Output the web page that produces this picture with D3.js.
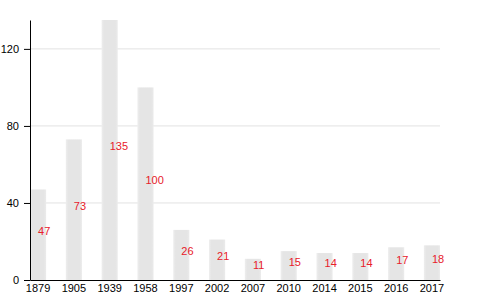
<!doctype html>
<html lang="en">
<head>
<meta charset="utf-8">
<title>Bar chart</title>
<style>
  body { margin: 0; background: #fff; }
  .axis text { font: 11px "Liberation Sans", Arial, sans-serif; fill: #000; }
  .grid line { stroke: #e2e2e2; }
  .label { font: 11px "Liberation Sans", Arial, sans-serif; fill: #e8202a; }
</style>
<script src="https://d3js.org/d3.v7.min.js"></script>
</head>
<body>
<div id="chart"></div>
<script>
// data
var years = ["1879", "1905", "1939", "1958", "1997", "2002", "2007", "2010", "2014", "2015", "2016", "2017"];
var counts = [47, 73, 135, 100, 26, 21, 11, 15, 14, 14, 17, 18];
var yTicks = [0, 40, 80, 120];

var margin = {top: 20, right: 40, bottom: 20, left: 30},
    width = 480 - margin.left - margin.right,
    height = 300 - margin.top - margin.bottom;

var svg = d3.select("#chart").append("svg")
  .attr("width", 480)
  .attr("height", 300);

// soft gradient on the bars
var grad = svg.append("defs").append("linearGradient")
  .attr("id", "barfill")
  .attr("x1", "0%").attr("x2", "100%");
grad.append("stop").attr("offset", "0%").attr("stop-color", "#eeeeee");
grad.append("stop").attr("offset", "15%").attr("stop-color", "#e5e5e5");
grad.append("stop").attr("offset", "85%").attr("stop-color", "#e5e5e5");
grad.append("stop").attr("offset", "100%").attr("stop-color", "#ebebeb");

var main = svg.append("g")
  .attr("transform", "translate(" + margin.left + "," + margin.top + ")");

var x = d3.scaleBand()
  .domain(years)
  .range([0, width])
  .paddingInner(0.55)
  .paddingOuter(0);

var y = d3.scaleLinear()
  .domain([0, 135])
  .range([height, 0]);

// gridlines
main.append("g")
  .attr("class", "grid")
  .selectAll("line")
  .data(yTicks.filter(function(d) { return d > 0; }))
  .enter().append("line")
  .attr("x1", 0)
  .attr("x2", width)
  .attr("y1", function(d) { return y(d); })
  .attr("y2", function(d) { return y(d); });

// bars
main.selectAll("rect.bar")
  .data(counts)
  .enter().append("rect")
  .attr("class", "bar")
  .attr("x", function(d, i) { return x(years[i]); })
  .attr("width", x.bandwidth())
  .attr("y", function(d) { return y(d); })
  .attr("height", function(d) { return height - y(d); })
  .style("fill", "url(#barfill)");

// value labels, halfway up each bar
main.selectAll("text.label")
  .data(counts)
  .enter().append("text")
  .attr("class", "label")
  .attr("x", function(d, i) { return x(years[i]) + x.bandwidth() / 2; })
  .attr("y", function(d) { return y(d / 2); })
  .text(function(d) { return d; });

// x axis
var xAxis = main.append("g")
  .attr("class", "axis")
  .attr("transform", "translate(0," + height + ")")
  .call(d3.axisBottom(x).tickSize(0).tickPadding(4));
xAxis.select(".domain").attr("stroke", "#000");

// y axis
var yAxis = main.append("g")
  .attr("class", "axis")
  .call(d3.axisLeft(y).tickValues(yTicks).tickSize(6).tickSizeOuter(0).tickPadding(5));
yAxis.selectAll(".tick line").attr("stroke", "#000");
</script>
</body>
</html>
